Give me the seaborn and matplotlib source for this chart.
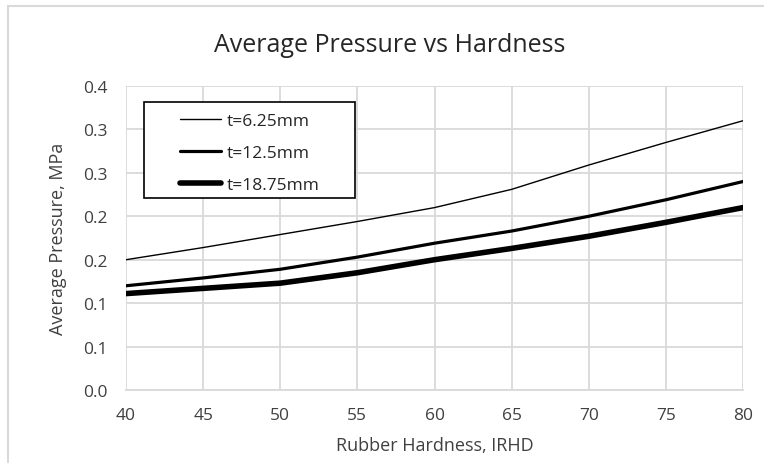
import matplotlib
matplotlib.use('Agg')
import matplotlib.pyplot as plt
import seaborn as sns
import numpy as np
import pandas as pd
from matplotlib.lines import Line2D
from matplotlib.patches import Rectangle

# Data
hardness = [40, 45, 50, 55, 60, 65, 70, 75, 80]
p_625 = [0.150, 0.164, 0.179, 0.194, 0.210, 0.231, 0.259, 0.285, 0.310]
p_125 = [0.120, 0.129, 0.139, 0.153, 0.169, 0.183, 0.200, 0.219, 0.240]
p_1875 = [0.111, 0.117, 0.123, 0.135, 0.150, 0.163, 0.177, 0.193, 0.210]
series_names = ['t=6.25mm', 't=12.5mm', 't=18.75mm']
y_ticks = [0.0, 0.05, 0.1, 0.15, 0.2, 0.25, 0.3, 0.35]
# Excel rounds the 0.05 steps to one decimal
y_tick_labels = ['0.0', '0.1', '0.1', '0.2', '0.2', '0.3', '0.3', '0.4']
x_ticks = [40, 45, 50, 55, 60, 65, 70, 75, 80]

sns.set_style('white')
plt.rcParams['font.family'] = ['Open Sans', 'DejaVu Sans']

df = pd.DataFrame({
    'hardness': hardness * 3,
    'pressure': p_625 + p_125 + p_1875,
    'series': [s for s in series_names for _ in hardness],
})

fig = plt.figure(figsize=(7.64, 4.64), dpi=100)
ax = fig.add_axes([126 / 764, 1 - 391 / 464, 617 / 764, 304 / 464])

widths = {'t=6.25mm': 1.0, 't=12.5mm': 2.3, 't=18.75mm': 4.0}
for name in series_names:
    sub = df[df.series == name]
    sns.lineplot(data=sub, x='hardness', y='pressure', ax=ax, color='black',
                 linewidth=widths[name], legend=False)

ax.set_xlim(40, 80)
ax.set_ylim(0, 0.35)
ax.set_xticks(x_ticks)
ax.set_yticks(y_ticks)
ax.set_xticklabels([str(v) for v in x_ticks])
ax.set_yticklabels(y_tick_labels)
ax.grid(True, color='#d9d9d9', linewidth=1.3)
ax.set_axisbelow(True)
for side in ['left', 'right', 'top']:
    ax.spines[side].set_visible(False)
ax.spines['bottom'].set_color('#d9d9d9')
ax.spines['bottom'].set_linewidth(1.3)
ax.tick_params(axis='both', length=0, labelsize=12.5, colors='#404040')
ax.tick_params(axis='x', pad=12.5)
ax.tick_params(axis='y', pad=13.5)

ax.set_xlabel('Rubber Hardness, IRHD', fontsize=13, color='#404040', labelpad=9)
ax.set_ylabel('Average Pressure, MPa', fontsize=13, color='#404040', labelpad=11)

fig.text(390 / 764, 1 - 52 / 464, 'Average Pressure vs Hardness', fontsize=18,
         color='#262626', ha='center', va='baseline')

# legend box as in the original (frame wider than its contents)
ax.add_patch(Rectangle((18 / 617, 192 / 304), 211 / 617, 96 / 304, transform=ax.transAxes,
                       facecolor='white', edgecolor='black', linewidth=1.2, zorder=4))
handles = [Line2D([0], [0], color='black', linewidth=widths[n]) for n in series_names]
leg = ax.legend(handles, series_names, loc='center',
                bbox_to_anchor=(0.2002, 0.7795), frameon=False, fontsize=12.5,
                handlelength=2.4, handletextpad=0.3, labelspacing=0.9,
                borderpad=0, borderaxespad=0)
leg.set_zorder(5)
for t in leg.get_texts():
    t.set_color('#262626')

# outer chart border (light gray)
fig.add_artist(Line2D([8 / 764, 1], [1 - 7 / 464, 1 - 7 / 464], color='#d9d9d9', linewidth=1.5))
fig.add_artist(Line2D([8 / 764, 8 / 764], [0, 1 - 7 / 464], color='#d9d9d9', linewidth=1.5))

fig.savefig('out.png', dpi=100)
